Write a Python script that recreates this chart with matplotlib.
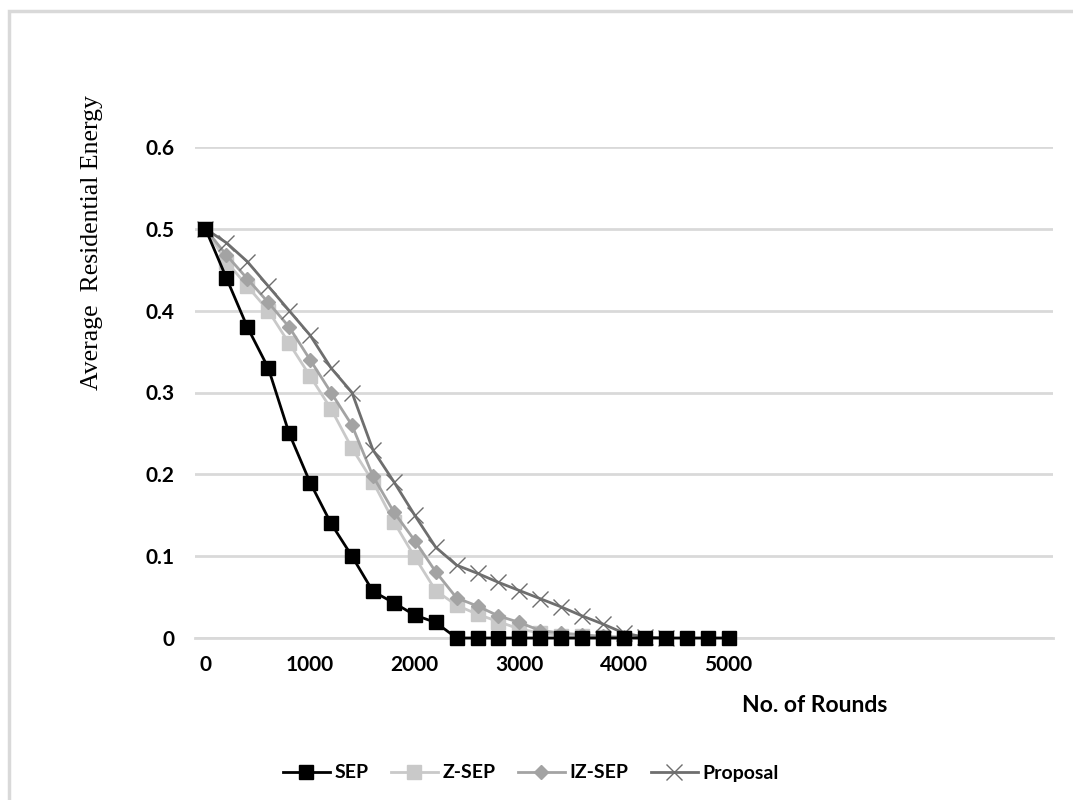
import numpy as np
import matplotlib.pyplot as plt
from matplotlib.patches import Rectangle
from matplotlib.lines import Line2D

# Data
rounds = np.arange(0, 5001, 200)

sep = [0.5, 0.44, 0.38, 0.33, 0.25, 0.19, 0.14, 0.10, 0.057, 0.043, 0.028, 0.019,
       0, 0, 0, 0, 0, 0, 0, 0, 0, 0, 0, 0, 0, 0]
z_sep = [0.5, 0.46, 0.43, 0.40, 0.36, 0.32, 0.28, 0.232, 0.191, 0.142, 0.099, 0.058,
         0.040, 0.029, 0.020, 0.011, 0.006, 0.003, 0.002, 0.001, 0]
iz_sep = [0.5, 0.468, 0.439, 0.41, 0.38, 0.34, 0.30, 0.26, 0.198, 0.154, 0.119, 0.081,
          0.049, 0.039, 0.027, 0.019, 0.009, 0.006, 0.004, 0.002, 0.001, 0]
proposal = [0.5, 0.483, 0.46, 0.43, 0.40, 0.37, 0.33, 0.30, 0.23, 0.191, 0.15, 0.111,
            0.089, 0.079, 0.068, 0.058, 0.048, 0.038, 0.027, 0.017, 0.006, 0.001, 0]

y_ticks = [0, 0.1, 0.2, 0.3, 0.4, 0.5, 0.6]
x_ticks = [0, 1000, 2000, 3000, 4000, 5000]

# Colours
c_sep = '#000000'
c_zsep = '#c9c9c9'
c_izsep = '#a3a3a3'
c_prop = '#6e6e6e'
c_grid = '#d9d9d9'

tick_font = dict(family='Lato', weight='bold', size=15)

fig = plt.figure(figsize=(10.73, 8.0), dpi=100)
fig.patches.append(Rectangle((9 / 1073, -0.1), 1.2, (1 - 11 / 800) + 0.1,
                             transform=fig.transFigure, fill=False,
                             edgecolor=c_grid, linewidth=2.5))

ax = fig.add_axes([195 / 1073, 1 - 638 / 800, (1053 - 195) / 1073, (638 - 147) / 800])

ax.plot(rounds[:len(sep)], sep, color=c_sep, lw=2, marker='s', ms=10, zorder=5,
        clip_on=False, label='SEP')
ax.plot(rounds[:len(z_sep)], z_sep, color=c_zsep, lw=2, marker='s', ms=10, zorder=2,
        clip_on=False, label='Z-SEP')
ax.plot(rounds[:len(iz_sep)], iz_sep, color=c_izsep, lw=2, marker='D', ms=7, zorder=3,
        clip_on=False, label='IZ-SEP')
ax.plot(rounds[:len(proposal)], proposal, color=c_prop, lw=2, marker='x', ms=11,
        mew=1, zorder=4, clip_on=False, label='Proposal')

ax.set_xlim(-100, 8100)
ax.set_ylim(0, 0.6)
ax.set_yticks(y_ticks)
ax.set_yticklabels([f'{v:g}' for v in y_ticks], fontdict=tick_font)
ax.set_xticks(x_ticks)
ax.set_xticklabels([str(v) for v in x_ticks], fontdict=tick_font)
ax.tick_params(axis='x', length=0, pad=12)
ax.tick_params(axis='y', length=0, pad=15)

ax.yaxis.grid(True, color=c_grid, lw=2)
ax.set_axisbelow(True)
for s in ['top', 'right', 'left']:
    ax.spines[s].set_visible(False)
ax.spines['bottom'].set_color(c_grid)
ax.spines['bottom'].set_linewidth(2)
ax.spines['bottom'].set_zorder(1)

fig.text(92 / 1073, 1 - 243 / 800, 'Average  Residential Energy', rotation=90,
         ha='center', va='center', family='Liberation Serif', size=18.5)
fig.text(815 / 1073, 1 - 705 / 800, 'No. of Rounds', ha='center', va='center',
         family='Lato', weight='bold', size=16.5)

handles = [Line2D([], [], color=c_sep, lw=2, marker='s', ms=10),
           Line2D([], [], color=c_zsep, lw=2, marker='s', ms=10),
           Line2D([], [], color=c_izsep, lw=2, marker='D', ms=7),
           Line2D([], [], color=c_prop, lw=2, marker='x', ms=11, mew=1)]
fig.legend(handles, ['SEP', 'Z-SEP', 'IZ-SEP', 'Proposal'], loc='center',
           bbox_to_anchor=(531 / 1073, 1 - 773 / 800), ncols=4, frameon=False,
           handlelength=2.4, columnspacing=1.15, handletextpad=0.25,
           prop=dict(family='Lato', weight='bold', size=14))

fig.savefig('out.png', dpi=100)
